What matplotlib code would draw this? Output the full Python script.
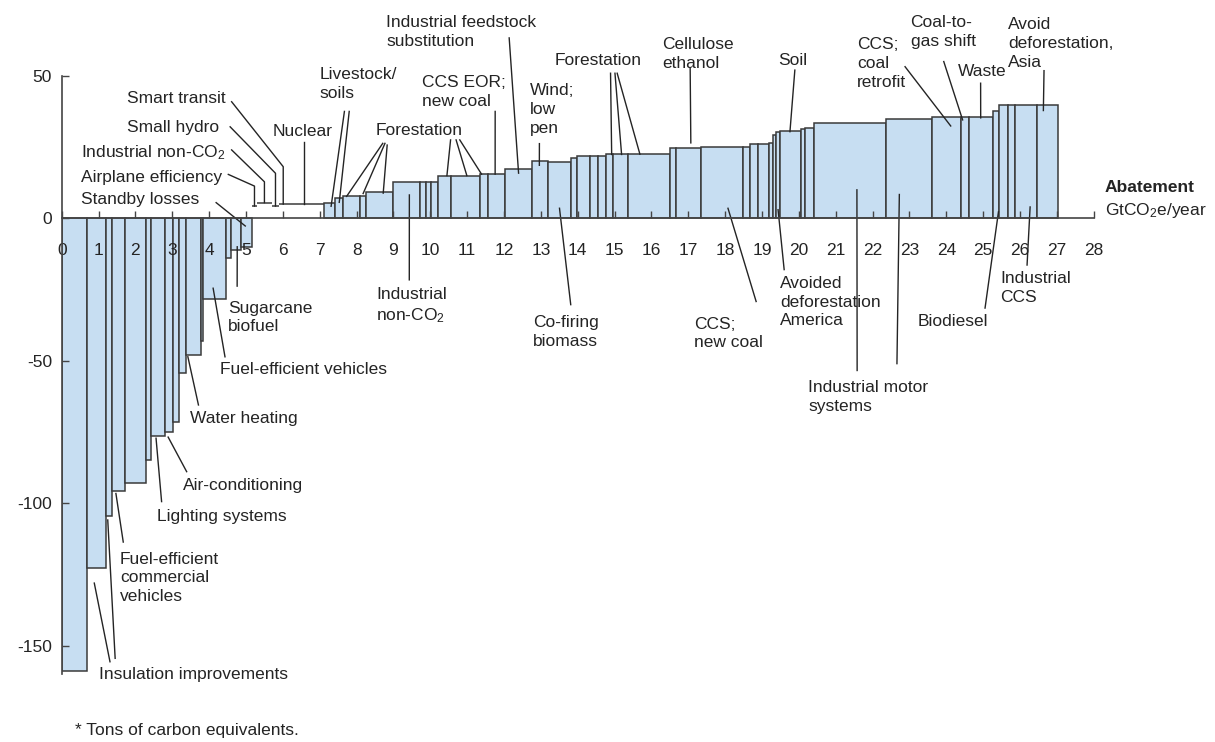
import numpy as np
import matplotlib.pyplot as plt

plt.rcParams['font.family'] = ['Liberation Sans', 'DejaVu Sans']
plt.rcParams['mathtext.fontset'] = 'custom'
plt.rcParams['mathtext.rm'] = 'Liberation Sans'
plt.rcParams['mathtext.it'] = 'Liberation Sans:italic'
plt.rcParams['mathtext.bf'] = 'Liberation Sans:bold'
plt.rcParams['axes.unicode_minus'] = False

# abatement measures, in order along the curve (GtCO2e/year, cost per ton)
widths = [0.68, 0.51, 0.18, 0.36, 0.55, 0.15, 0.37, 0.22, 0.16, 0.18, 0.42, 0.06,
          0.61, 0.15, 0.27, 0.29,
          0.14, 0.40, 0.20, 0.22, 1.00,
          0.30, 0.22, 0.45, 0.16, 0.75, 0.72, 0.16, 0.15, 0.18, 0.36, 0.78, 0.22,
          0.45, 0.75, 0.41, 0.65, 0.14, 0.36, 0.23, 0.22, 0.18, 0.41, 1.13, 0.16,
          0.68, 1.15, 0.18, 0.23, 0.30, 0.10, 0.09, 0.09, 0.59, 0.09, 0.25, 1.94,
          1.25, 0.81, 0.21, 0.65, 0.16, 0.25, 0.18, 0.59, 0.57]
costs = [-159, -122.6, -104.5, -95.6, -92.8, -84.8, -76.4, -74.9, -71.6, -54.4, -48.1, -43,
         -28.2, -14, -11.1, -10,
         4.3, 5.5, 4.3, 5.0, 5.0,
         5.2, 7.0, 7.7, 7.9, 9.1, 12.8, 12.8, 12.8, 12.8, 15.0, 15.0, 15.5,
         15.5, 17.4, 20.0, 19.6, 21.0, 22.0, 22.0, 22.0, 22.4, 22.4, 22.5, 24.5,
         24.5, 25.1, 25.1, 26.0, 26.0, 26.3, 29.2, 30.2, 30.7, 31.2, 31.6, 33.3,
         34.8, 35.6, 35.6, 35.6, 37.7, 39.8, 39.8, 39.8, 39.8]
# near-zero cost measures shown only by their top line
cap_idx = [16, 17, 18, 19, 20]
xticks = list(range(0, 29))
yticks = [-150, -100, -50, 0, 50]

fill = '#c7def2'
edge = '#3a3a3a'
ink = '#242424'
fs = 12.5

widths = np.array(widths)
costs = np.array(costs)
lefts = np.concatenate([[0], np.cumsum(widths)[:-1]])
is_cap = np.isin(np.arange(len(widths)), cap_idx)

# label text, text x, text y, leaders: (start x, start y, bar index, frac across bar, frac of bar height, elbow y)
notes = [
    ('Insulation improvements', 1.0, -160.2, [(1.31, -155.6, 1, 0.4, 1.044, None), (1.45, -154.4, 2, 0.33, 1.013, None)]),
    ('Fuel-efficient\ncommercial\nvehicles', 1.58, -126.2, [(1.67, -113.6, 3, 0.28, 1.01, None)]),
    ('Lighting systems', 2.59, -104.8, [(2.71, -99.4, 6, 0.35, 1.01, None)]),
    ('Air-conditioning', 3.29, -93.6, [(3.39, -88.9, 7, 0.4, 1.025, None)]),
    ('Water heating', 3.48, -70.1, [(3.71, -65.5, 10, 0.15, 1.01, None)]),
    ('Fuel-efficient vehicles', 4.30, -53.2, [(4.43, -48.6, 12, 0.44, 0.87, None)]),
    ('Sugarcane\nbiofuel', 4.51, -34.8, [(4.76, -23.8, 14, 0.6, 0.9, None)]),
    ('Standby losses', 0.52, 6.6, [(4.19, 5.5, 15, 0.38, 0.27, None)]),
    ('Airplane efficiency', 0.52, 14.2, [(4.52, 15.4, 16, 0.5, 1.0, 11.3)]),
    ('Industrial non-CO$_2$', 0.52, 23.0, [(4.61, 24.0, 17, 0.5, 1.0, 12.8)]),
    ('Small hydro', 1.76, 31.8, [(4.57, 32.1, 18, 0.5, 1.0, 15.8)]),
    ('Smart transit', 1.76, 42.1, [(4.61, 40.9, 19, 0.5, 1.0, 18.1)]),
    ('Nuclear', 5.73, 30.6, [(6.58, 26.9, 20, 0.46, 1.0, None)]),
    ('Livestock/\nsoils', 6.99, 47.1, [(7.67, 37.5, 21, 0.63, 0.81, None), (7.80, 37.5, 22, 0.5, 0.8, None)]),
    ('Forestation', 8.53, 30.9, [(8.71, 26.3, 23, 0.2, 1.0, None), (8.77, 26.3, 24, 0.55, 1.1, None),
                                 (8.83, 25.7, 25, 0.63, 0.97, None), (10.55, 27.5, 30, 0.67, 1.0, None),
                                 (10.7, 27.5, 31, 0.54, 1.0, None), (10.8, 27.5, 32, 0.18, 1.0, None)]),
    ('CCS EOR;\nnew coal', 9.77, 44.3, [(11.76, 37.5, 33, 0.42, 1.0, None)]),
    ('Industrial feedstock\nsubstitution', 8.80, 65.4, [(12.14, 63.3, 34, 0.5, 0.91, None)]),
    ('Wind;\nlow\npen', 12.69, 38.2, [(12.96, 26.2, 35, 0.46, 0.93, None)]),
    ('Forestation', 13.36, 55.5, [(14.89, 50.9, 41, 0.78, 1.0, None), (15.01, 50.9, 42, 0.56, 1.0, None),
                                  (15.07, 50.9, 43, 0.28, 1.0, None)]),
    ('Cellulose\nethanol', 16.3, 57.6, [(17.05, 52.8, 45, 0.6, 1.08, None)]),
    ('Soil', 19.44, 55.5, [(19.89, 52.0, 53, 0.47, 0.99, None)]),
    ('CCS;\ncoal\nretrofit', 21.57, 54.4, [(22.88, 53.2, 58, 0.64, 0.91, None)]),
    ('Coal-to-\ngas shift', 23.03, 65.4, [(23.93, 55.0, 59, 0.15, 0.97, None)]),
    ('Waste', 24.32, 51.4, [(24.93, 47.4, 60, 0.48, 0.99, None)]),
    ('Avoid\ndeforestation,\nAsia', 25.68, 61.4, [(26.65, 51.8, 65, 0.32, 0.95, None)]),
    ('Industrial\nnon-CO$_2$', 8.53, -30.8, [(9.43, -21.6, 26, 0.6, 0.64, None)]),
    ('Co-firing\nbiomass', 12.79, -39.8, [(13.81, -30.3, 36, 0.5, 0.18, None)]),
    ('CCS;\nnew coal', 17.15, -40.4, [(18.84, -29.2, 46, 0.64, 0.14, None)]),
    ('Avoided\ndeforestation\nAmerica', 19.49, -29.4, [(19.6, -18.0, 52, 0.5, 0.1, None)]),
    ('Industrial motor\nsystems', 20.25, -62.7, [(21.58, -53.4, 56, 0.6, 0.3, None), (22.66, -51.0, 57, 0.3, 0.24, None)]),
    ('Biodiesel', 23.23, -36.1, [(25.05, -31.5, 61, 0.9, 0.06, None)]),
    ('Industrial\nCCS', 25.46, -24.6, [(26.19, -16.4, 64, 0.7, 0.1, None)]),
]

fig = plt.figure(figsize=(12.15, 7.42), dpi=100)
ax = fig.add_axes([61.7 / 1215, 1 - 674.3 / 742, 28 * 36.86 / 1215, (674.3 - 75.8) / 742])

m = ~is_cap
ax.bar(lefts[m], costs[m], width=widths[m], align='edge', color=fill, edgecolor=edge, linewidth=1.1)
ax.hlines(costs[is_cap], lefts[is_cap], lefts[is_cap] + widths[is_cap], color=edge, linewidth=1.1)

for text, tx, ty, leaders in notes:
    ax.text(tx, ty, text, ha='left', va='center', fontsize=fs, color=ink, linespacing=1.32)
    for sx, sy, i, fx, fy, ey in leaders:
        xe = lefts[i] + fx * widths[i]
        ye = costs[i] * fy
        if ey is None:
            xs, ys = [sx, xe], [sy, ye]
        else:
            xs, ys = [sx, xe, xe], [sy, ey, ye]
        ax.plot(xs, ys, color=ink, linewidth=1.0, clip_on=False)

ax.set_xlim(0, 28)
ax.set_ylim(-160, 50)
ax.set_xticks(xticks)
ax.set_yticks(yticks)
ax.spines['top'].set_visible(False)
ax.spines['right'].set_visible(False)
ax.spines['bottom'].set_position(('data', 0))
for s in ['left', 'bottom']:
    ax.spines[s].set_color('#444444')
    ax.spines[s].set_linewidth(1.2)
ax.tick_params(axis='x', direction='in', length=5, width=1, color='#444444', pad=18, labelsize=fs, labelcolor=ink)
ax.tick_params(axis='y', direction='in', length=5, width=1, color='#444444', pad=7, labelsize=fs, labelcolor=ink)

ax.text(28.3, 10.9, 'Abatement', ha='left', va='center', fontsize=fs, fontweight='bold', color=ink)
ax.text(28.3, 2.9, 'GtCO$_2$e/year', ha='left', va='center', fontsize=fs, color=ink)
fig.text(75 / 1215, 1 - 730 / 742, '* Tons of carbon equivalents.', ha='left', va='center', fontsize=fs, color=ink)

fig.savefig('out.png', dpi=100)
